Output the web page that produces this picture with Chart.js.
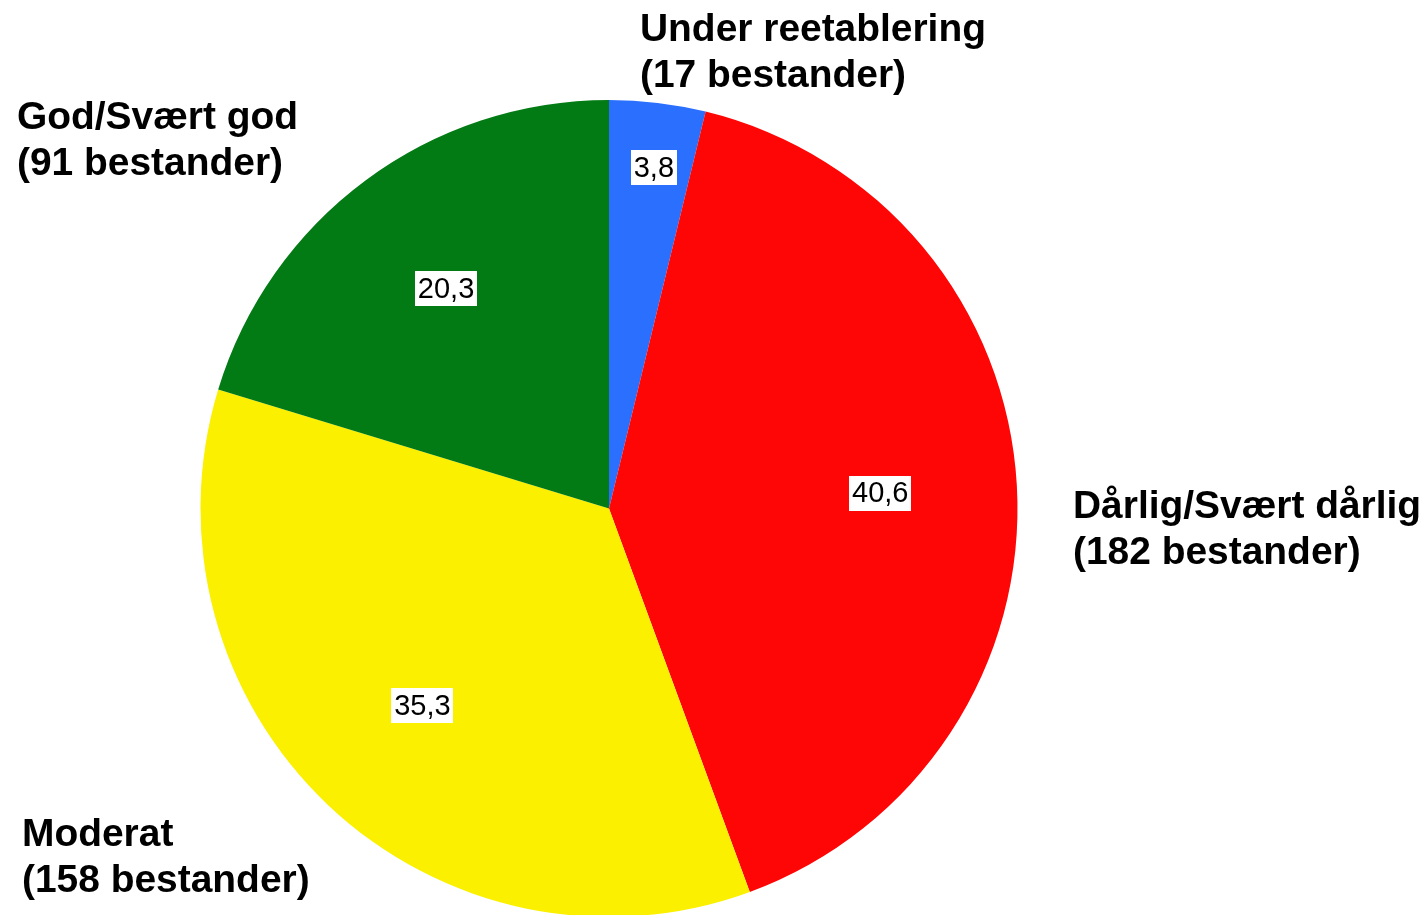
<!DOCTYPE html>
<html>
<head>
<meta charset="utf-8">
<script src="https://cdn.jsdelivr.net/npm/chart.js@4.4.0/dist/chart.umd.min.js"></script>
<style>
    html, body { margin: 0; padding: 0; background: #ffffff; overflow: hidden; }
    #wrap { width: 1428px; height: 940px; }
</style>
</head>
<body>
<div id="wrap"><canvas id="pieChart" width="1428" height="940"></canvas></div>
<script>
// data (clockwise from 12 o'clock)
const categories = ['Under reetablering', 'Dårlig/Svært dårlig', 'Moderat', 'God/Svært god'];
const counts = [17, 182, 158, 91];
const percents = [3.8, 40.6, 35.3, 20.3];
const sliceColors = ['#2a6ffe', '#fe0606', '#faf000', '#037b14'];

// where the value boxes sit, as fraction of the radius
const valueRadius = [0.84, 0.665, 0.665, 0.67];
// outer category labels (left x, baseline of first line)
const outerLabelPos = [[640, 41], [1073, 518], [22, 846], [17, 129]];

const FONT = '"Liberation Sans", Arial, sans-serif';

const labelPlugin = {
    id: 'pieLabels',
    afterDraw(chart) {
        const ctx = chart.ctx;
        const meta = chart.getDatasetMeta(0);
        ctx.save();

        // value boxes
        ctx.font = '29px ' + FONT;
        ctx.textAlign = 'center';
        ctx.textBaseline = 'middle';
        meta.data.forEach((arc, i) => {
            const mid = (arc.startAngle + arc.endAngle) / 2;
            const r = arc.outerRadius * valueRadius[i];
            const x = arc.x + Math.cos(mid) * r + (i === 0 ? 4 : 0);
            const y = arc.y + Math.sin(mid) * r;
            const txt = percents[i].toFixed(1).replace('.', ',');
            const w = ctx.measureText(txt).width + 6;
            const h = 35;
            ctx.fillStyle = '#ffffff';
            ctx.fillRect(Math.round(x - w / 2), Math.round(y - h / 2), Math.round(w), h);
            ctx.fillStyle = '#000000';
            ctx.fillText(txt, x, y + 1);
        });

        // category labels (source text is a touch wider than Liberation)
        ctx.font = 'bold 38px ' + FONT;
        ctx.textAlign = 'left';
        ctx.textBaseline = 'alphabetic';
        ctx.fillStyle = '#000000';
        const sx = 1.024;
        categories.forEach((c, i) => {
            const [x, y] = outerLabelPos[i];
            ctx.save();
            ctx.translate(x, y);
            ctx.scale(sx, 1);
            ctx.fillText(c, 0, 0);
            ctx.fillText('(' + counts[i] + ' bestander)', 0, 46);
            ctx.restore();
        });
        ctx.restore();
    }
};

new Chart(document.getElementById('pieChart').getContext('2d'), {
    type: 'pie',
    data: {
        labels: categories,
        datasets: [{
            data: percents,
            backgroundColor: sliceColors,
            borderWidth: 0
        }]
    },
    options: {
        responsive: false,
        animation: false,
        layout: { padding: { top: 100, bottom: 23, left: 200, right: 410 } },
        plugins: { legend: { display: false }, tooltip: { enabled: false } }
    },
    plugins: [labelPlugin]
});
</script>
</body>
</html>
